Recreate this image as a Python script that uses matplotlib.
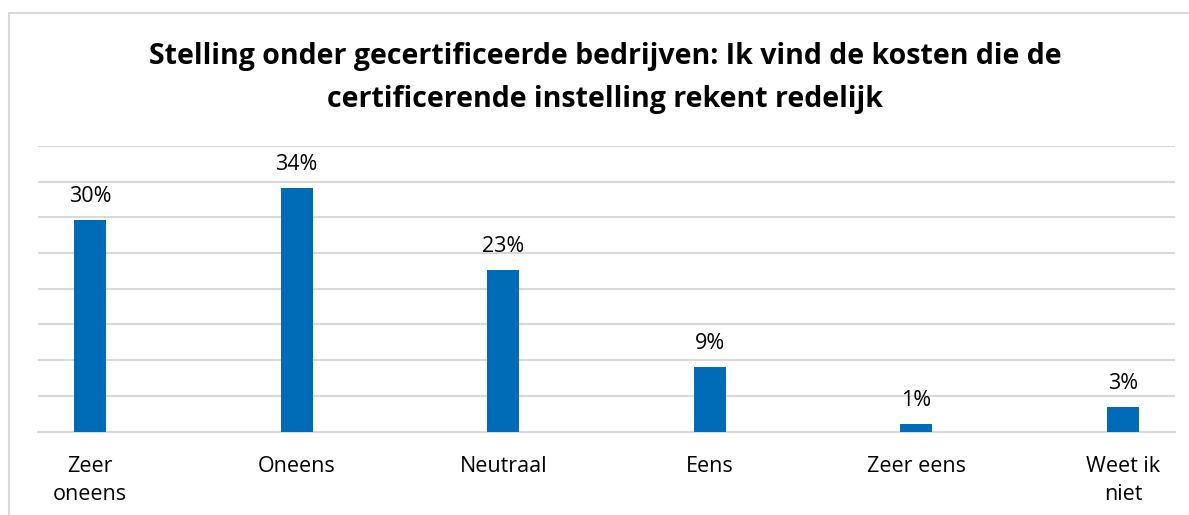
import matplotlib
matplotlib.use("Agg")
import matplotlib.pyplot as plt
from matplotlib.patches import Rectangle
import numpy as np

categories = ["Zeer\noneens", "Oneens", "Neutraal", "Eens", "Zeer eens", "Weet ik\nniet"]
values = [29.6, 34.1, 22.6, 9.1, 1.1, 3.4]
labels = ["30%", "34%", "23%", "9%", "1%", "3%"]
title = "Stelling onder gecertificeerde bedrijven: Ik vind de kosten die de\ncertificerende instelling rekent redelijk"

W, H = 1189, 515
fig = plt.figure(figsize=(W / 100, H / 100), dpi=100)
fig.patch.set_facecolor("white")

# outer chart border (extends past right/bottom edges)
fig.patches.append(Rectangle((8.5 / W, -0.1), 1.2, (H - 12.5) / H + 0.1,
                             transform=fig.transFigure, fill=False,
                             edgecolor="#d9d9d9", linewidth=1.5))

ax = fig.add_axes([38 / W, 83.5 / H, (1175 - 38) / W, (431.5 - 146) / H])
x = np.arange(len(categories))
ax.bar(x, values, width=32 / 206.6, color="#006bb6", zorder=3)
ax.set_ylim(0, 40)
ax.set_xlim(-(90 - 38) / 206.6, 5 + (1175 - 1123) / 206.6)
ax.set_yticks(np.arange(0, 41, 5))
ax.yaxis.grid(True, color="#d9d9d9", linewidth=1.5, zorder=0)
ax.tick_params(axis="y", left=False, labelleft=False)
ax.tick_params(axis="x", length=0, pad=17.5)
ax.set_xticks(x)
ax.set_xticklabels(categories, fontsize=15.5, family="Open Sans", color="#000000", linespacing=1.42)
for s in ["left", "right", "top"]:
    ax.spines[s].set_visible(False)
ax.spines["bottom"].set_color("#d9d9d9")
ax.spines["bottom"].set_linewidth(1.5)

for xi, v, lab in zip(x, values, labels):
    ax.annotate(lab, (xi, v), xytext=(0, 18), textcoords="offset pixels",
                ha="center", va="baseline", fontsize=15.5, family="Open Sans", color="#000000")

fig.text(605 / W, 1 - 78 / H, title, ha="center", va="center", fontsize=20.5,
         fontweight="bold", family="Open Sans", linespacing=1.6, color="#000000")

fig.savefig("out.png", dpi=100)
